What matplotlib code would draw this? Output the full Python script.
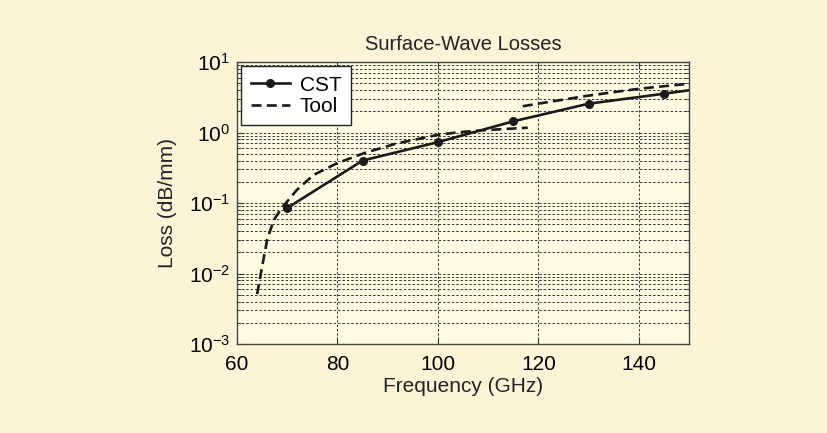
import matplotlib.pyplot as plt
from matplotlib.ticker import LogLocator, NullFormatter

plt.rcParams['font.family'] = ['Liberation Sans', 'DejaVu Sans']
plt.rcParams['mathtext.fontset'] = 'custom'
plt.rcParams['mathtext.rm'] = 'Liberation Sans'

# CST simulation (markers at 70..145 GHz, line continues to the axis edge)
cst_freq = [70, 85, 100, 115, 130, 145, 150]
cst_loss = [0.085, 0.40, 0.73, 1.44, 2.56, 3.55, 3.97]

# Tool, first branch
tool1_freq = [64.0, 65.0, 66.0, 67.3, 68.9, 71.9, 75.2, 79.9, 85.2, 91.8, 99.8, 103.7, 108.3, 117.9]
tool1_loss = [0.0051, 0.0125, 0.030, 0.057, 0.085, 0.153, 0.249, 0.366, 0.507, 0.70, 0.92, 1.0, 1.07, 1.17]

# Tool, second branch
tool2_freq = [116.9, 129.5, 140.1, 150]
tool2_loss = [2.36, 3.30, 4.18, 4.92]

fig = plt.figure(figsize=(8.27, 4.33), dpi=100)
fig.patch.set_facecolor('#fdf3d7')
ax = fig.add_axes([0.2866, 0.2055, 0.5465, 0.6513])
ax.set_facecolor('#fffbe2')

ax.plot(cst_freq, cst_loss, '-', color='#1a1a1a', lw=1.9, marker='o', ms=5.5,
        markevery=slice(0, 6), label='CST')
ax.plot(tool1_freq, tool1_loss, '--', color='#1a1a1a', lw=1.9, dashes=(3.8, 2.0), label='Tool')
ax.plot(tool2_freq, tool2_loss, '--', color='#1a1a1a', lw=1.9, dashes=(3.8, 2.0))

ax.set_yscale('log')
ax.set_xlim(60, 150)
ax.set_ylim(1e-3, 10)
ax.set_xticks([60, 80, 100, 120, 140])
ax.yaxis.set_major_locator(LogLocator(base=10, numticks=10))
ax.yaxis.set_minor_locator(LogLocator(base=10, subs=range(2, 10), numticks=20))
ax.yaxis.set_minor_formatter(NullFormatter())

ax.grid(True, which='major', axis='both', color='#333333', ls=(0, (2.5, 2)), lw=0.7)
ax.grid(True, which='minor', axis='y', color='#333333', ls=(0, (2.5, 2)), lw=0.7)

ax.tick_params(which='both', direction='in', top=True, right=True, labelsize=15,
               color='#333333')
ax.tick_params(which='major', length=5)
ax.tick_params(which='minor', length=3)
ax.tick_params(axis='x', pad=8)
ax.tick_params(axis='y', pad=5)
for s in ax.spines.values():
    s.set_color('#444444')
    s.set_linewidth(1.0)

ax.set_title('Surface-Wave Losses', fontsize=14.5, color='#222222', pad=9)
ax.set_xlabel('Frequency (GHz)', fontsize=15, color='#222222', labelpad=2)
ax.set_ylabel('Loss (dB/mm)', fontsize=15, color='#222222')
ax.yaxis.set_label_coords(-0.132, 0.5)

leg = ax.legend(loc='upper left', fontsize=15, frameon=True, fancybox=False,
                edgecolor='#222222', facecolor='white', framealpha=1,
                handlelength=1.9, handletextpad=0.45, borderpad=0.45,
                labelspacing=0.12, borderaxespad=0.2)
leg.get_frame().set_linewidth(1.0)

fig.savefig('out.png', dpi=100, facecolor=fig.get_facecolor())
